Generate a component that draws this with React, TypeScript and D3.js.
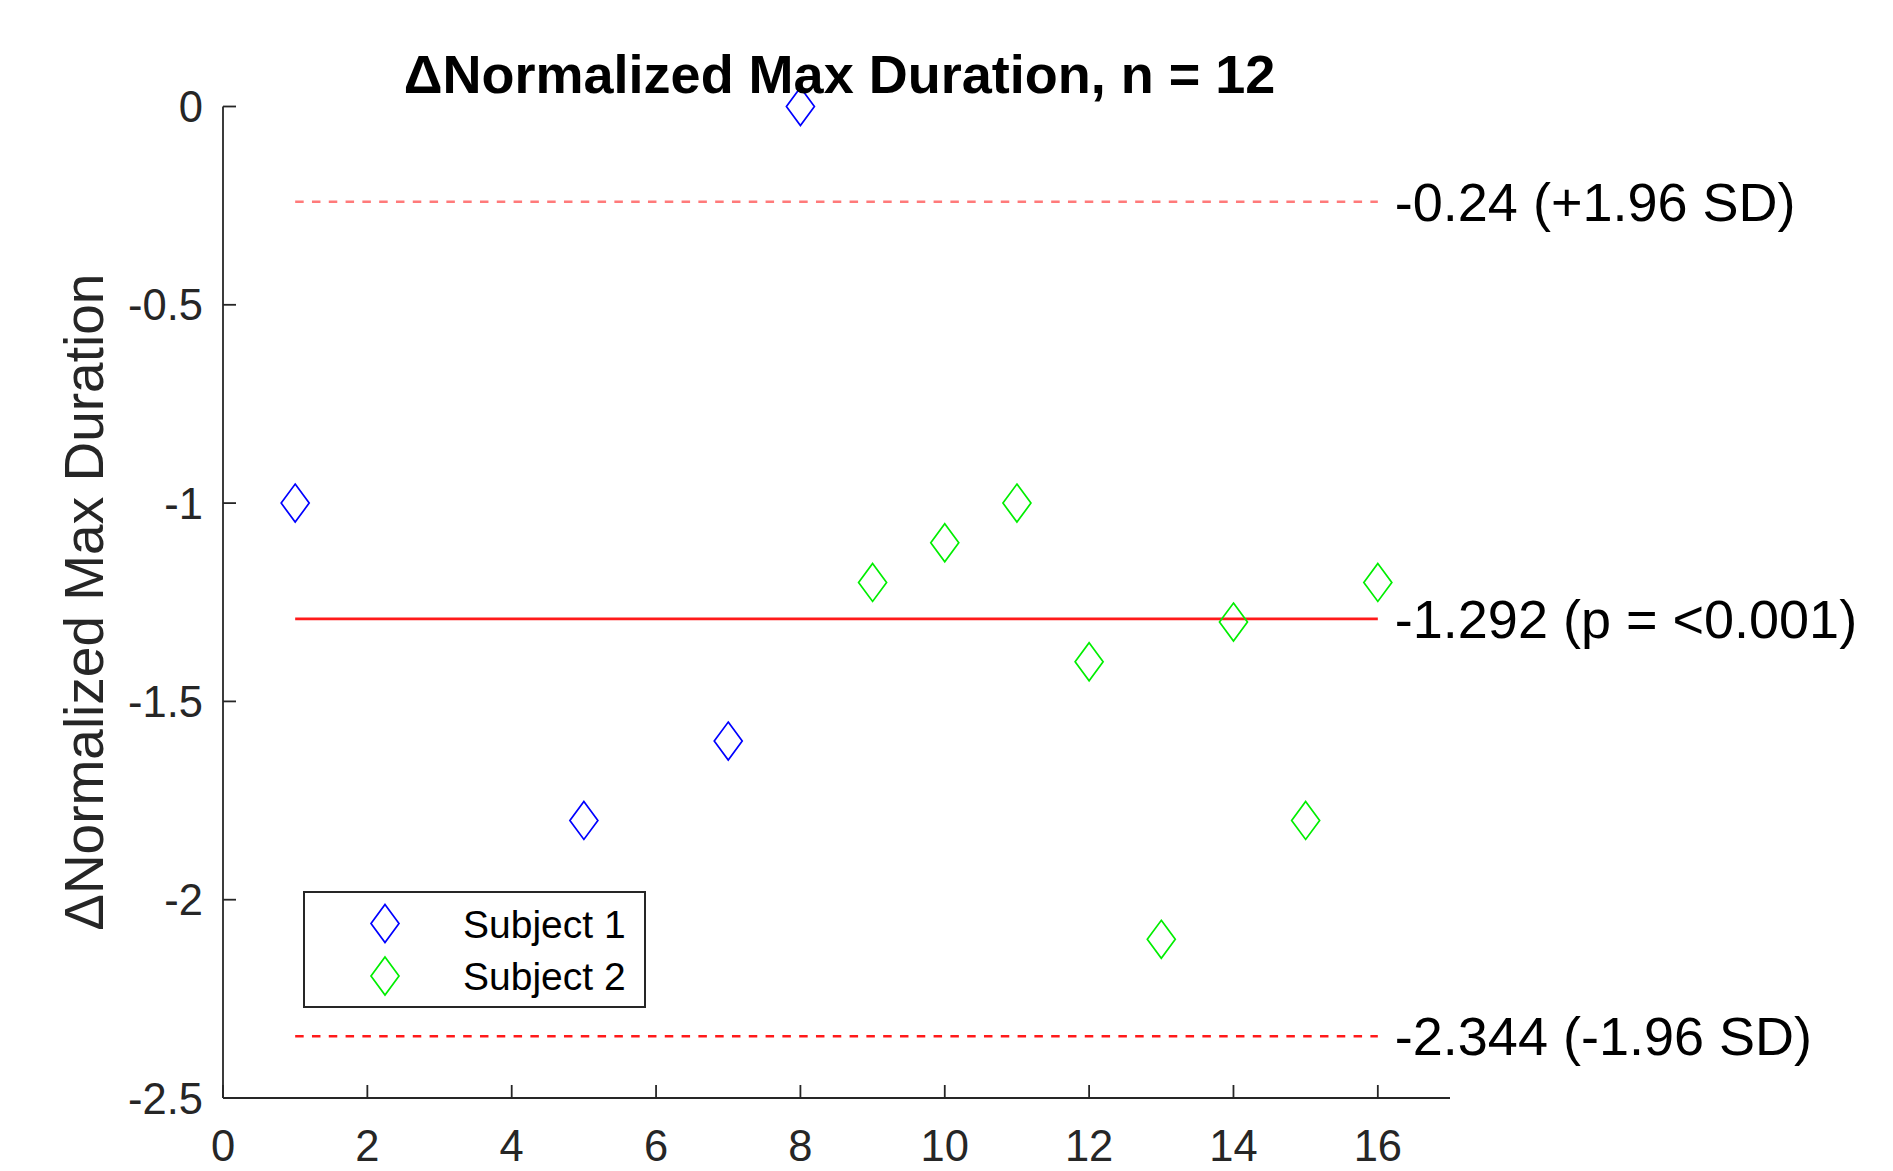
import React from "react";
import * as d3 from "d3";

const subject1X = [1, 5, 7, 8];
const subject1Y = [-1, -1.8, -1.6, 0];
const subject2X = [9, 10, 11, 12, 13, 14, 15, 16];
const subject2Y = [-1.2, -1.1, -1, -1.4, -2.1, -1.3, -1.8, -1.2];
const refValues = [-0.24, -1.292, -2.344];
const refLabels = ["-0.24 (+1.96 SD)", "-1.292 (p = <0.001)", "-2.344 (-1.96 SD)"];
const refStyles = ["upper", "mean", "lower"];
const refRange = [1, 16];
const xTicks = [0, 2, 4, 6, 8, 10, 12, 14, 16];
const yTicks = [0, -0.5, -1, -1.5, -2, -2.5];
const yTickLabels = ["0", "-0.5", "-1", "-1.5", "-2", "-2.5"];
const legendLabels = ["Subject 1", "Subject 2"];
const seriesColors = ["#0000ff", "#00ee00"];

const W = 1893;
const H = 1171;
const left = 223;
const right = 1450;
const top = 106.5;
const bottom = 1098;
const FONT = "'Liberation Sans', Arial, Helvetica, sans-serif";
const AX = "#262626";

const diamond = "M0,-19L14,0L0,19L-14,0Z";

export default function App() {
  const x = d3.scaleLinear().domain([0, 17]).range([left, right]);
  const y = d3.scaleLinear().domain([-2.5, 0]).range([bottom, top]);

  const s1 = subject1X.map((v, i) => [v, subject1Y[i]]);
  const s2 = subject2X.map((v, i) => [v, subject2Y[i]]);

  const refStroke = (s: string) =>
    s === "upper" ? "#ff7a7a" : "#ff1a1a";

  return (
    <svg
      width={W}
      height={H}
      style={{ position: "absolute", left: 0, top: 0, background: "#fff" }}
      fontFamily={FONT}
    >
      <rect x={0} y={0} width={W} height={H} fill="#fff" />
      {refValues.map((v, i) => (
        <line
          key={"r" + i}
          x1={x(refRange[0])}
          x2={x(refRange[1])}
          y1={y(v)}
          y2={y(v)}
          stroke={refStroke(refStyles[i])}
          strokeWidth={refStyles[i] === "mean" ? 2.8 : 2.5}
          strokeDasharray={refStyles[i] === "mean" ? undefined : "8.5 8.3"}
        />
      ))}
      {refValues.map((v, i) => (
        <text
          key={"rl" + i}
          x={x(refRange[1]) + 17}
          y={y(v) + 19}
          fontSize={54}
          fill="#000"
        >
          {refLabels[i]}
        </text>
      ))}
      <line x1={left} x2={left} y1={top} y2={bottom} stroke={AX} strokeWidth={1.8} />
      <line x1={left} x2={right} y1={bottom} y2={bottom} stroke={AX} strokeWidth={1.8} />
      {xTicks.map((t) => (
        <g key={"xt" + t}>
          <line x1={x(t)} x2={x(t)} y1={bottom} y2={bottom - 13} stroke={AX} strokeWidth={1.8} />
          <text x={x(t)} y={bottom + 63} fontSize={43.5} textAnchor="middle" fill={AX}>
            {t}
          </text>
        </g>
      ))}
      {yTicks.map((t, i) => (
        <g key={"yt" + t}>
          <line x1={left} x2={left + 13} y1={y(t)} y2={y(t)} stroke={AX} strokeWidth={1.8} />
          <text x={left - 20} y={y(t) + 15.5} fontSize={43.5} textAnchor="end" fill={AX}>
            {yTickLabels[i]}
          </text>
        </g>
      ))}
      {s1.map((p, i) => (
        <path
          key={"a" + i}
          d={diamond}
          transform={`translate(${x(p[0])},${y(p[1])})`}
          fill="none"
          stroke={seriesColors[0]}
          strokeWidth={1.7}
        />
      ))}
      {s2.map((p, i) => (
        <path
          key={"b" + i}
          d={diamond}
          transform={`translate(${x(p[0])},${y(p[1])})`}
          fill="none"
          stroke={seriesColors[1]}
          strokeWidth={1.7}
        />
      ))}
      <text
        x={(left + right) / 2 + 3}
        y={93}
        fontSize={54}
        fontWeight="bold"
        textAnchor="middle"
        fill="#000"
      >
        ΔNormalized Max Duration, n = 12
      </text>
      <text
        transform={`translate(103,${(top + bottom) / 2}) rotate(-90)`}
        fontSize={55}
        textAnchor="middle"
        fill={AX}
      >
        ΔNormalized Max Duration
      </text>
      <rect x={304} y={892} width={341} height={115} fill="#fff" stroke={AX} strokeWidth={2} />
      {legendLabels.map((l, i) => (
        <g key={"lg" + i} transform={`translate(0,${923.5 + i * 52.5})`}>
          <path
            d={diamond}
            transform="translate(385,0)"
            fill="none"
            stroke={seriesColors[i]}
            strokeWidth={1.7}
          />
          <text x={463} y={14} fontSize={39} fill="#000">
            {l}
          </text>
        </g>
      ))}
    </svg>
  );
}
